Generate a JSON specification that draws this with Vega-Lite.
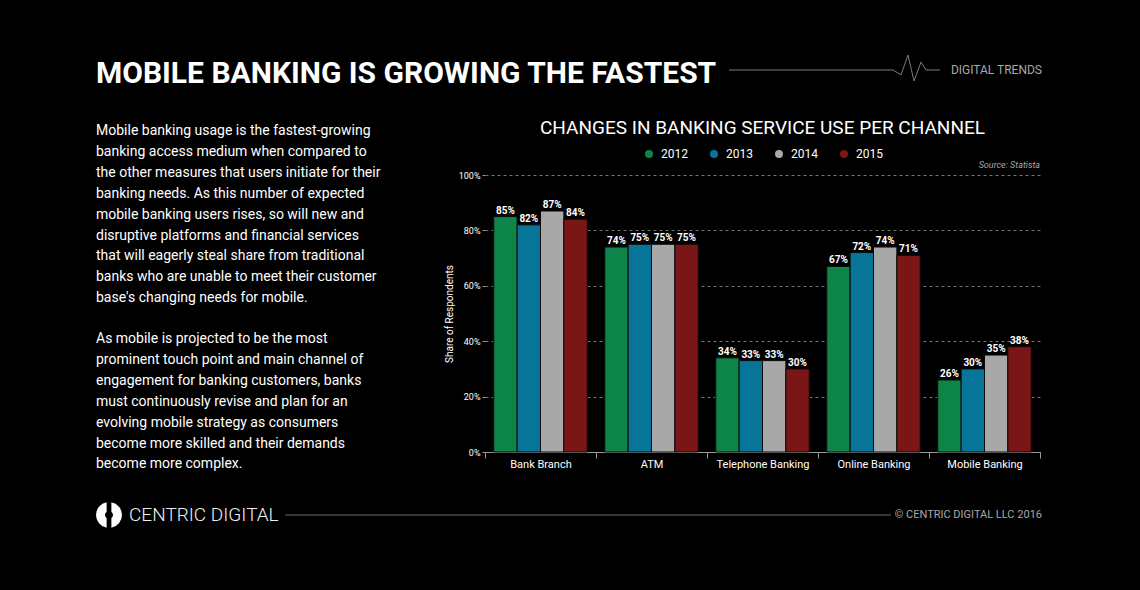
{
  "$schema": "https://vega.github.io/schema/vega-lite/v6.json",
  "background": "#000000",
  "padding": {"left": 95, "top": 35, "right": 99, "bottom": 12},
  "config": {"view": {"stroke": null}, "font": "Roboto"},
  "columns": 2,
  "bounds": "flush",
  "align": "each",
  "spacing": 0,
  "concat": [
    {
      "width": 389, "height": 70,
      "data": {"values": [{"label": "MOBILE BANKING IS GROWING THE FASTEST"}]},
      "mark": {"type": "text", "align": "left", "baseline": "middle", "dy": 4, "font": "Roboto", "fontWeight": "bold", "fontSize": 30, "color": "#ffffff"},
      "encoding": {
        "text": {"field": "label"},
        "x": {"datum": 0, "type": "quantitative", "scale": {"domain": [0, 1], "nice": false, "zero": false}, "axis": null}
      }
    },
    {
      "width": 557, "height": 70,
      "layer": [
        {
          "data": {"values": [
            {"t": 244, "v": 0}, {"t": 408, "v": 0}, {"t": 416, "v": -5}, {"t": 423, "v": 15},
            {"t": 429, "v": -11}, {"t": 436, "v": 8}, {"t": 441, "v": 0}, {"t": 455, "v": 0}
          ]},
          "mark": {"type": "line", "color": "#7a7a7a", "strokeWidth": 1},
          "encoding": {
            "x": {"field": "t", "type": "quantitative", "scale": {"domain": [0, 557], "nice": false, "zero": false}, "axis": null},
            "y": {"field": "v", "type": "quantitative", "scale": {"domain": [-35, 35], "nice": false, "zero": false}, "axis": null}
          }
        },
        {
          "data": {"values": [{"label": "DIGITAL TRENDS"}]},
          "mark": {"type": "text", "align": "right", "baseline": "middle", "font": "Roboto", "fontSize": 12, "color": "#a8a8a8"},
          "encoding": {
            "text": {"field": "label"},
            "x": {"datum": 557, "type": "quantitative"}
          }
        }
      ]
    },
    {
      "width": 389, "height": 70,
      "data": {"values": [{"label": "Mobile banking usage is the fastest-growing\nbanking access medium when compared to\nthe other measures that users initiate for their\nbanking needs. As this number of expected\nmobile banking users rises, so will new and\ndisruptive platforms and financial services\nthat will eagerly steal share from traditional\nbanks who are unable to meet their customer\nbase's changing needs for mobile."}]},
      "mark": {"type": "text", "align": "left", "baseline": "alphabetic", "lineBreak": "\n", "lineHeight": 20.9, "dy": 30, "font": "Roboto", "fontSize": 14, "color": "#ffffff"},
      "encoding": {
        "text": {"field": "label"},
        "x": {"datum": 0, "type": "quantitative", "scale": {"domain": [0, 1], "nice": false, "zero": false}, "axis": null},
        "y": {"datum": 1, "type": "quantitative", "scale": {"domain": [0, 1], "nice": false, "zero": false}, "axis": null}
      }
    },
    {
      "width": 555, "height": 70,
      "data": {"values": [{"label": "Source: Statista"}]},
      "mark": {"type": "text", "align": "right", "baseline": "alphabetic", "dy": -7, "font": "Roboto", "fontStyle": "italic", "fontSize": 9, "color": "#a8a8a8"},
      "encoding": {
        "text": {"field": "label"},
        "x": {"datum": 1, "type": "quantitative", "scale": {"domain": [0, 1], "nice": false, "zero": false}, "axis": null},
        "y": {"datum": 0, "type": "quantitative", "scale": {"domain": [0, 1], "nice": false, "zero": false}, "axis": null}
      }
    },
    {
      "width": 389, "height": 277,
      "data": {"values": [{"label": "As mobile is projected to be the most\nprominent touch point and main channel of\nengagement for banking customers, banks\nmust continuously revise and plan for an\nevolving mobile strategy as consumers\nbecome more skilled and their demands\nbecome more complex."}]},
      "mark": {"type": "text", "align": "left", "baseline": "alphabetic", "lineBreak": "\n", "lineHeight": 20.9, "dy": 168, "font": "Roboto", "fontSize": 14, "color": "#ffffff"},
      "encoding": {
        "text": {"field": "label"},
        "x": {"datum": 0, "type": "quantitative", "scale": {"domain": [0, 1], "nice": false, "zero": false}, "axis": null},
        "y": {"datum": 1, "type": "quantitative", "scale": {"domain": [0, 1], "nice": false, "zero": false}, "axis": null}
      }
    },
    {
      "width": 555, "height": 277,
      "title": {"text": "CHANGES IN BANKING SERVICE USE PER CHANNEL", "color": "#ffffff", "font": "Roboto", "fontSize": 19, "fontWeight": "normal", "anchor": "middle", "baseline": "alphabetic", "offset": 18},
      "data": {"values": [
        {"channel": "Bank Branch", "year": "2012", "share": 0.85},
        {"channel": "Bank Branch", "year": "2013", "share": 0.82},
        {"channel": "Bank Branch", "year": "2014", "share": 0.87},
        {"channel": "Bank Branch", "year": "2015", "share": 0.84},
        {"channel": "ATM", "year": "2012", "share": 0.74},
        {"channel": "ATM", "year": "2013", "share": 0.75},
        {"channel": "ATM", "year": "2014", "share": 0.75},
        {"channel": "ATM", "year": "2015", "share": 0.75},
        {"channel": "Telephone Banking", "year": "2012", "share": 0.34},
        {"channel": "Telephone Banking", "year": "2013", "share": 0.33},
        {"channel": "Telephone Banking", "year": "2014", "share": 0.33},
        {"channel": "Telephone Banking", "year": "2015", "share": 0.30},
        {"channel": "Online Banking", "year": "2012", "share": 0.67},
        {"channel": "Online Banking", "year": "2013", "share": 0.72},
        {"channel": "Online Banking", "year": "2014", "share": 0.74},
        {"channel": "Online Banking", "year": "2015", "share": 0.71},
        {"channel": "Mobile Banking", "year": "2012", "share": 0.26},
        {"channel": "Mobile Banking", "year": "2013", "share": 0.30},
        {"channel": "Mobile Banking", "year": "2014", "share": 0.35},
        {"channel": "Mobile Banking", "year": "2015", "share": 0.38}
      ]},
      "encoding": {
        "x": {
          "field": "channel", "type": "nominal",
          "sort": ["Bank Branch", "ATM", "Telephone Banking", "Online Banking", "Mobile Banking"],
          "scale": {"paddingInner": 0, "paddingOuter": 0},
          "axis": {"title": null, "labelAngle": 0, "labelColor": "#ffffff", "labelFont": "Roboto", "labelFontSize": 11, "domainColor": "#999999", "tickColor": "#999999", "tickSize": 6, "tickBand": "extent", "labelPadding": 0, "grid": false}
        },
        "xOffset": {"field": "year", "type": "nominal", "scale": {"paddingInner": 0, "paddingOuter": 0.375}},
        "y": {
          "field": "share", "type": "quantitative",
          "scale": {"domain": [0, 1], "nice": false},
          "axis": {"values": [0, 0.2, 0.4, 0.6, 0.8, 1], "format": ".0%", "domain": false, "tickSize": 3, "tickColor": "#999999", "labelColor": "#ffffff", "labelFont": "Roboto", "labelFontSize": 9, "labelPadding": 2, "grid": true, "gridColor": "#777777", "gridDash": [3, 3], "title": "Share of Respondents", "titleColor": "#ffffff", "titleFont": "Roboto", "titleFontSize": 10, "titleFontWeight": "normal", "titlePadding": 4}
        }
      },
      "layer": [
        {
          "mark": {"type": "bar", "stroke": "#0a0a0a", "strokeWidth": 1},
          "encoding": {
            "color": {
              "field": "year", "type": "nominal",
              "scale": {"domain": ["2012", "2013", "2014", "2015"], "range": ["#0d8448", "#067597", "#a8a8a8", "#7b1616"]},
              "legend": {"orient": "none", "legendX": 547, "legendY": 113, "direction": "horizontal", "title": null, "symbolType": "circle", "symbolSize": 64, "symbolStrokeWidth": 0, "labelColor": "#ffffff", "labelFont": "Roboto", "labelFontSize": 12, "labelOffset": 6, "columnPadding": 20}
            }
          }
        },
        {
          "mark": {"type": "text", "baseline": "bottom", "dy": -1, "font": "Roboto", "fontWeight": "bold", "fontSize": 10, "color": "#ffffff"},
          "encoding": {
            "text": {"field": "share", "type": "quantitative", "format": ".0%"}
          }
        }
      ]
    },
    {
      "width": 389, "height": 126,
      "layer": [
        {
          "data": {"values": [{"part": "a", "v": 1}, {"part": "b", "v": 1}]},
          "mark": {"type": "arc", "outerRadius": 13, "innerRadius": 4, "padAngle": 0.35, "color": "#ffffff"},
          "encoding": {
            "theta": {"field": "v", "type": "quantitative", "stack": true},
            "detail": {"field": "part"},
            "x": {"datum": 13, "type": "quantitative", "scale": {"domain": [0, 389], "nice": false, "zero": false}, "axis": null}
          }
        },
        {
          "data": {"values": [{"label": "CENTRIC DIGITAL"}]},
          "mark": {"type": "text", "align": "left", "baseline": "middle", "font": "Roboto", "fontWeight": 300, "fontSize": 19, "color": "#eeeeee"},
          "encoding": {
            "text": {"field": "label"},
            "x": {"datum": 33, "type": "quantitative"}
          }
        },
        {
          "data": {"values": [{"part": "line"}]},
          "mark": {"type": "rule", "color": "#6a6a6a", "strokeWidth": 1},
          "encoding": {
            "x": {"datum": 189, "type": "quantitative"},
            "x2": {"datum": 389},
            "y": {"datum": 0.5, "type": "quantitative", "scale": {"domain": [0, 1], "nice": false, "zero": false}, "axis": null}
          }
        }
      ]
    },
    {
      "width": 557, "height": 126,
      "layer": [
        {
          "data": {"values": [{"part": "line"}]},
          "mark": {"type": "rule", "color": "#6a6a6a", "strokeWidth": 1},
          "encoding": {
            "x": {"datum": 0, "type": "quantitative", "scale": {"domain": [0, 557], "nice": false, "zero": false}, "axis": null},
            "x2": {"datum": 406},
            "y": {"datum": 0.5, "type": "quantitative", "scale": {"domain": [0, 1], "nice": false, "zero": false}, "axis": null}
          }
        },
        {
          "data": {"values": [{"label": "© CENTRIC DIGITAL LLC 2016"}]},
          "mark": {"type": "text", "align": "right", "baseline": "middle", "font": "Roboto", "fontSize": 11, "color": "#a8a8a8"},
          "encoding": {
            "text": {"field": "label"},
            "x": {"datum": 557, "type": "quantitative"}
          }
        }
      ]
    }
  ]
}
